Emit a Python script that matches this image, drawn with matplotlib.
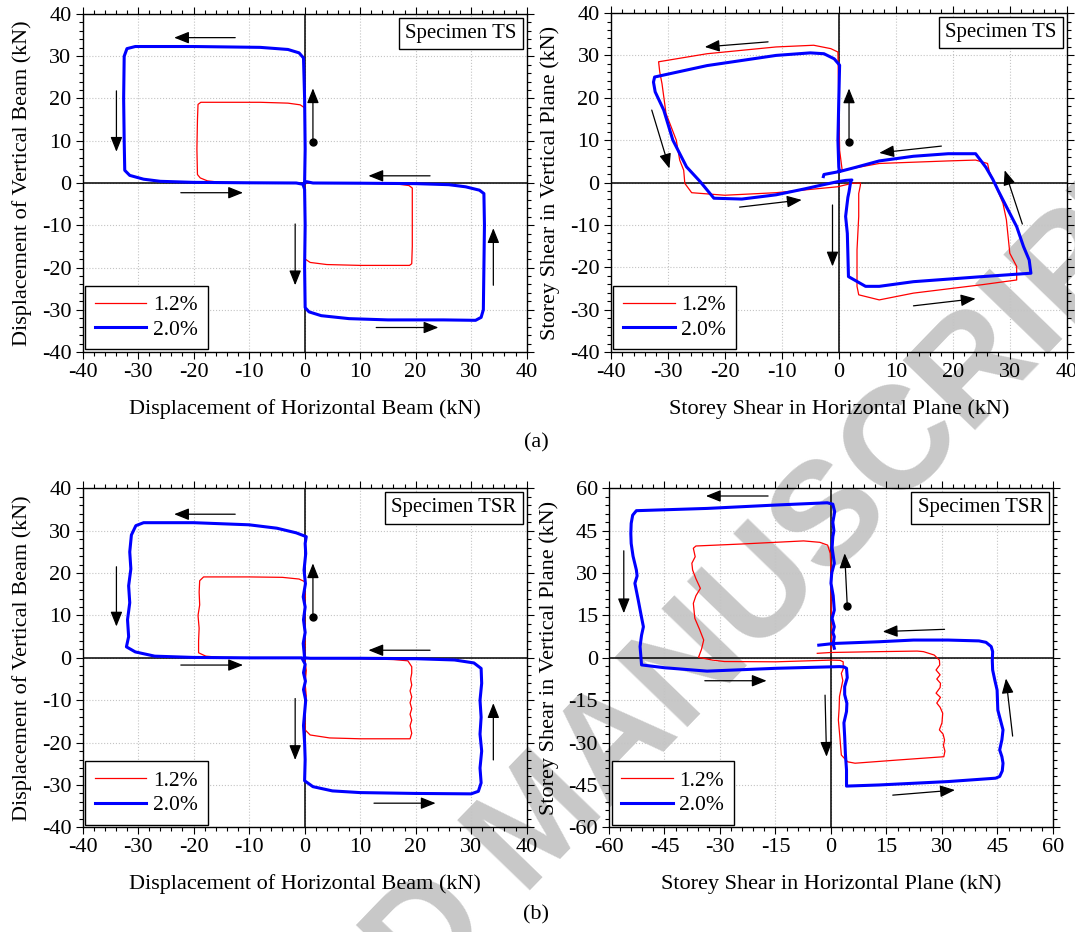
import numpy as np
import matplotlib
matplotlib.use('Agg')
import matplotlib.pyplot as plt
import matplotlib.ticker as mticker
from matplotlib.offsetbox import AnchoredText

plt.rcParams['font.family'] = ['Liberation Serif', 'DejaVu Serif']
plt.rcParams['axes.unicode_minus'] = False

# ---- Specimen TS, beam displacements (kN) ----
ts_beam_12 = [(0, 0), (0.1, 5), (0, 15), (0, 17.8), (-0.8, 18.5), (-3, 18.9), (-8, 19.1), (-15, 19.1),
              (-18.7, 19.1), (-19.2, 18.6), (-19.3, 15), (-19.4, 8), (-19.3, 2), (-18.8, 1.2), (-17.5, 0.5),
              (-15, 0.15), (-8, 0.05), (-1, 0), (0, -0.5), (0.1, -8), (0, -15), (0.1, -18), (1, -18.8),
              (4, -19.3), (10, -19.5), (17, -19.5), (18.9, -19.5), (19.3, -19.1), (19.4, -15), (19.4, -8),
              (19.4, -1.2), (18.8, -0.6), (17, -0.3), (12, -0.1), (5, -0.05), (0, 0)]
ts_beam_20 = [(0, 0), (0.1, 8), (0, 20), (-0.2, 29.6), (-1, 30.8), (-3, 31.6), (-8, 32.1), (-20, 32.3),
              (-30.5, 32.3), (-32, 31.8), (-32.5, 30), (-32.6, 20), (-32.5, 10), (-32.4, 3), (-31.5, 1.8),
              (-29, 0.9), (-26, 0.4), (-20, 0.15), (-10, 0.05), (-1.5, 0), (-0.3, -0.3), (0, -1.5),
              (0.1, -10), (0, -20), (0.1, -29.5), (0.8, -30.5), (3, -31.4), (8, -32.1), (15, -32.4),
              (25, -32.4), (30.8, -32.5), (31.8, -31.8), (32.2, -30), (32.3, -20), (32.4, -10), (32.3, -2.5),
              (31.5, -1.7), (29, -0.9), (26, -0.4), (20, -0.15), (10, -0.05), (1.5, 0), (0.4, 0.3), (0, 0)]

# ---- Specimen TS, storey shear (kN) ----
ts_shear_12 = [(0.6, 2.9), (0.15, 7.6), (0, 19.4), (-0.15, 30.8), (-1.4, 31.6), (-4.4, 32.4), (-11, 32),
               (-23.1, 30.4), (-31.6, 28.5), (-31.4, 26.1), (-31, 23.3), (-30.3, 16.3), (-28.5, 10),
               (-27.9, 5.3), (-27.2, 2.9), (-27, -0.2), (-25.8, -2.4), (-20, -3), (-11, -2.4), (-0.2, -1),
               (2.3, -0.2), (3.8, -0.1), (3.8, -0.6), (3.5, -2.6), (3.5, -8), (3.2, -15.9), (3.2, -24.5),
               (3.5, -26.5), (7.1, -27.7), (13.1, -26.1), (25.2, -24.1), (31.2, -23), (31.2, -19.8),
               (30, -16.7), (29.4, -8.8), (28.8, -4.9), (27.6, -1), (26.4, 2.6), (26.1, 4.5), (24, 5.3),
               (19.2, 5.1), (7.1, 4.5), (0.6, 2.9)]
ts_shear_20 = [(0.1, 2.6), (0, 3.7), (-0.15, 10), (0, 19.4), (0.15, 27.7), (-0.8, 29.2), (-2.6, 30.4),
               (-5, 30.6), (-11, 30), (-23.1, 27.6), (-32.3, 24.9), (-32.5, 23.7), (-32.2, 21.4),
               (-30.7, 17.1), (-29.1, 10), (-26.7, 3.7), (-24.3, 0.2), (-21.9, -3.7), (-17, -3.9),
               (-11, -2.9), (-6, -1.5), (-3, -0.6), (-0.2, 0.2), (1.2, 0.5), (2.3, 0.6), (2.1, 0.3),
               (1.8, -2.2), (1.6, -3.5), (1.4, -5.7), (1.2, -8), (1.5, -12), (1.6, -17), (1.7, -22.2),
               (4.7, -24.5), (7.1, -24.5), (13.1, -23.4), (25.2, -22.2), (33.7, -21.4), (33.4, -18.3),
               (32.4, -15.1), (31.2, -10.4), (29.4, -5.7), (28, -2), (27, 0.8), (25.8, 3.6), (24, 6.8),
               (19.2, 6.8), (13.1, 6.2), (7.1, 5.1), (3, 3.6), (0.15, 2.6), (-2.6, 1.9), (-2.7, 1.4)]

# ---- Specimen TSR, beam displacements (kN) ----
tsr_beam_12 = [(0, 0), (0.1, 5), (0, 10), (0.1, 15), (0, 18), (-1, 18.6), (-4, 19), (-10, 19.1),
               (-18.2, 19.1), (-18.9, 18.2), (-19, 15.5), (-18.9, 12.5), (-19.2, 10), (-19, 7), (-19.1, 4),
               (-19.1, 1.2), (-17.8, 0.4), (-15, 0.1), (-8, 0), (0, 0), (0.3, -3), (0.1, -6), (0.3, -9),
               (0, -12), (0.1, -17), (1, -18.2), (4.5, -18.9), (10, -19.1), (19, -19.1), (19.3, -17.8),
               (19, -16), (19.3, -14.7), (19, -13.3), (19.3, -12), (19, -10.6), (19.3, -9.2), (19, -7.8),
               (19.3, -6.4), (19.1, -5), (19.3, -3.6), (19.3, -2.1), (18.6, -0.7), (16, -0.4), (10, -0.2),
               (0, 0)]
tsr_beam_20 = [(0, 0), (-0.25, 3.4), (0.1, 6), (-0.2, 9), (0.1, 12), (-0.25, 14.4), (0.15, 17.5),
               (-0.1, 20.7), (0.2, 24.6), (0.1, 27), (0.3, 28.6), (-1.5, 29.5), (-5, 30.6), (-10, 31.4),
               (-20, 31.9), (-29, 31.9), (-30.4, 31.2), (-31.2, 29), (-31.5, 25), (-31.3, 21), (-31.7, 17),
               (-31.5, 13), (-31.9, 9), (-31.7, 5), (-32.1, 2.6), (-30.5, 1.4), (-27, 0.4), (-20, 0.1),
               (-10, 0), (-0.5, 0), (0.1, -1.5), (-0.2, -3.5), (0.15, -5.5), (-0.2, -7.5), (0.2, -10),
               (0, -13), (-0.2, -16), (0, -20), (0.1, -24), (0, -29), (1.5, -30.4), (5, -31.4), (10, -31.8),
               (20, -32), (30, -32.1), (31.3, -31.5), (31.8, -29.5), (31.6, -26), (31.9, -22), (31.6, -18),
               (31.8, -14), (31.6, -10), (31.9, -6), (31.8, -2.5), (30.5, -1.2), (27, -0.5), (20, -0.2),
               (10, -0.1), (1, -0.1), (0, 0)]

# ---- Specimen TSR, storey shear (kN) ----
tsr_shear_12 = [(0, 2.8), (0.2, 8), (0.2, 13.4), (0, 20), (0, 31.1), (-0.2, 37), (-0.9, 39.9), (-3, 40.9),
                (-7.4, 41.4), (-24.2, 40.3), (-36.5, 39.6), (-37.2, 38.8), (-36.7, 35.8), (-37.6, 33.5),
                (-37.4, 31.1), (-36.5, 28), (-35.3, 24.6), (-36.5, 22), (-37.2, 19.3), (-36.8, 14),
                (-35.5, 10), (-34.4, 6.3), (-35, 3), (-35.8, 0.2), (-32, -0.8), (-28.8, -1.3), (-14.9, -1.4),
                (0, -0.8), (2.5, -0.9), (3.3, -1.4), (3.3, -4), (2.8, -5.5), (3.2, -8), (2.3, -13.7),
                (2.2, -18), (2, -22), (2.4, -28), (2.8, -34.4), (4.5, -36.8), (6.5, -37.3), (17.7, -36.2),
                (30.5, -35), (30.8, -33), (30.4, -31), (30.7, -29.1), (30.3, -27), (29.3, -25.5), (30, -23),
                (30.2, -19.6), (29.5, -17.5), (28.6, -16), (29.6, -14), (28.4, -12.5), (29.5, -10.5),
                (29.6, -9), (28.6, -7.5), (29.5, -6), (28.4, -4.3), (29.4, -2.5), (29.3, -0.8), (27.9, 1),
                (25, 2.2), (23.3, 2.4), (13, 2.2), (0, 1.9), (-3.7, 1.6)]
tsr_shear_20 = [(0.9, 3.4), (0.6, 5), (0.9, 7.5), (0.5, 9), (0.9, 11), (0.3, 14), (0.9, 16.9), (0.6, 22),
                (0, 26.4), (0.2, 30), (0.9, 33.5), (0.3, 39), (0.5, 42.9), (0.8, 45), (0.5, 48), (1, 51.7),
                (0.5, 54.4), (-1, 54.9), (-14.9, 54.1), (-33.5, 52.9), (-52.6, 52.1), (-53.6, 50.5),
                (-54, 47.6), (-54.1, 44), (-54, 40.5), (-53.5, 36), (-52.6, 31.1), (-52.4, 29), (-53, 26.4),
                (-52.1, 20.5), (-51.3, 15), (-50.7, 11), (-51.2, 8), (-51.6, 4), (-51.2, -2.5), (-45, -3.5),
                (-33.5, -4.7), (-14.9, -3.7), (2.3, -3.1), (3.5, -3.2), (4.2, -3.7), (4.4, -7), (3.7, -10.2),
                (3.7, -13), (4.3, -16.1), (4.2, -19), (3.5, -23), (3.7, -27.9), (3.9, -34), (4.2, -39.7),
                (4.2, -45.4), (13, -45), (31.6, -43.8), (44.5, -42.6), (45.6, -42), (46.3, -40),
                (46.5, -37.3), (46.2, -35), (45.6, -32.6), (46.2, -29), (46.5, -25.5), (45.8, -22),
                (45.1, -18.5), (45, -15), (44.9, -11.4), (44.3, -8), (43.7, -4.3), (43.6, -1), (43.7, 2.2),
                (43.3, 4), (41.9, 5.5), (40, 6), (31.6, 6.3), (22.3, 6.3), (13, 5.7), (0.9, 5.1), (-3.3, 4.5)]

# loading direction arrows (start, end) and the starting dot
ts_beam_arrows = [((-12.5, 34.4), (-23.5, 34.4)), ((-33.9, 21.8), (-33.9, 7.4)), ((1.5, 9.6), (1.5, 22.4)),
                  ((22.6, 1.7), (11.5, 1.7)), ((-22.3, -2.3), (-11.1, -2.3)), ((-1.7, -9.7), (-1.7, -24.2)),
                  ((34, -24.2), (34, -10.7)), ((12.9, -34.2), (24.1, -34.2))]
ts_shear_arrows = [((-12.4, 33.2), (-23.5, 32)), ((-32.8, 17.1), (-29.7, 3.3)), ((1.8, 9.5), (1.8, 22.2)),
                   ((18, 8.6), (7.1, 7)), ((-17.4, -5.8), (-6.5, -4.1)), ((-1.1, -5.3), (-1.1, -19.8)),
                   ((32.2, -9.8), (29.1, 2.9)), ((13.1, -29.1), (24, -27.4))]
tsr_beam_arrows = [((-12.5, 33.9), (-23.5, 33.9)), ((-33.9, 21.5), (-33.9, 7.4)), ((1.5, 9.7), (1.5, 22.3)),
                   ((22.6, 1.8), (11.5, 1.8)), ((-22.3, -1.7), (-11.1, -1.7)), ((-1.7, -9.6), (-1.7, -24.1)),
                   ((34, -24.1), (34, -10.7)), ((12.5, -34.3), (23.6, -34.3))]
tsr_shear_arrows = [((-17, 57.3), (-33.8, 57.3)), ((-56, 37.9), (-56, 15.8)), ((4.4, 18.5), (3.7, 37)),
                    ((30.7, 10.1), (14, 9.3)), ((-34.1, -8.1), (-17.4, -8.1)), ((-1.6, -13.2), (-1.2, -35)),
                    ((49.1, -27.7), (47.3, -7.3)), ((16.7, -48.6), (33.5, -46.8))]
ts_beam_dot = (1.5, 9.6)
ts_shear_dot = (1.8, 9.5)
tsr_beam_dot = (1.5, 9.7)
tsr_shear_dot = (4.4, 18.5)

labels = ['1.2%', '2.0%']
beam_xlabel = 'Displacement of Horizontal Beam (kN)'
beam_ylabel = 'Displacement of Vertical Beam (kN)'
shear_xlabel = 'Storey Shear in Horizontal Plane (kN)'
shear_ylabel = 'Storey Shear in Vertical Plane (kN)'

FS = 16


def setup(ax, lim, major, minor, xlabel, ylabel, name):
    ax.set_facecolor('none')
    ax.set_xlim(-lim, lim)
    ax.set_ylim(-lim, lim)
    ax.xaxis.set_major_locator(mticker.MultipleLocator(major))
    ax.yaxis.set_major_locator(mticker.MultipleLocator(major))
    ax.xaxis.set_minor_locator(mticker.MultipleLocator(minor))
    ax.yaxis.set_minor_locator(mticker.MultipleLocator(minor))
    ax.tick_params(which='both', direction='out', top=True, right=True, width=0.8,
                   labelsize=FS, pad=3)
    ax.tick_params(which='major', length=5)
    ax.tick_params(which='minor', length=2.8)
    ax.grid(True, which='major', color='#c4c4c4', linestyle=':', linewidth=0.8)
    for s in ax.spines.values():
        s.set_linewidth(1.0)
    ax.axhline(0, color='k', lw=1.1, zorder=2.5)
    ax.axvline(0, color='k', lw=1.1, zorder=2.5)
    ax.set_xlabel(xlabel, fontsize=FS, labelpad=12)
    ax.set_ylabel(ylabel, fontsize=FS, labelpad=7)
    at = AnchoredText(name, loc='upper right', prop=dict(size=15), pad=0.3, borderpad=0.18)
    at.patch.set_boxstyle('square,pad=0')
    at.patch.set_edgecolor('k')
    at.patch.set_linewidth(1.0)
    at.zorder = 6
    ax.add_artist(at)


def draw(ax, red, blue, arrows, dot):
    r = np.array(red)
    b = np.array(blue)
    ax.plot(r[:, 0], r[:, 1], color='#ff0000', lw=0.9, label=labels[0], zorder=3)
    ax.plot(b[:, 0], b[:, 1], color='#0000ff', lw=2.2, label=labels[1], zorder=4)
    for start, end in arrows:
        ax.annotate('', xy=end, xytext=start,
                    arrowprops=dict(arrowstyle='-|>,head_length=0.45,head_width=0.18', color='k',
                                    lw=0.9, mutation_scale=20, shrinkA=0, shrinkB=0), zorder=5)
    ax.plot([dot[0]], [dot[1]], 'o', color='k', ms=5, zorder=5)
    leg = ax.legend(loc='lower left', fontsize=15.5, frameon=True, fancybox=False, framealpha=1,
                    edgecolor='k', handlelength=2.4, handletextpad=0.3, labelspacing=0.2,
                    borderpad=0.45, borderaxespad=0.12)
    leg.get_frame().set_linewidth(1.0)
    leg.set_zorder(6)


fig = plt.figure(figsize=(10.75, 9.32), dpi=100)

# watermark behind the panels
fig.text(0.504, 0.116, 'ACCEPTED MANUSCRIPT', fontsize=105, family='Liberation Sans', weight='bold',
         color='#c8c8c8', rotation=46, rotation_mode='anchor', ha='center', va='center', zorder=-1)

ax1 = fig.add_axes([0.0768, 0.6223, 0.4131, 0.3627])
ax2 = fig.add_axes([0.5681, 0.6223, 0.4243, 0.3637])
ax3 = fig.add_axes([0.0768, 0.1123, 0.4131, 0.3637])
ax4 = fig.add_axes([0.5665, 0.1123, 0.4130, 0.3637])

setup(ax1, 40, 10, 2, beam_xlabel, beam_ylabel, 'Specimen TS')
draw(ax1, ts_beam_12, ts_beam_20, ts_beam_arrows, ts_beam_dot)
setup(ax2, 40, 10, 2, shear_xlabel, shear_ylabel, 'Specimen TS')
draw(ax2, ts_shear_12, ts_shear_20, ts_shear_arrows, ts_shear_dot)
setup(ax3, 40, 10, 2, beam_xlabel, beam_ylabel, 'Specimen TSR')
draw(ax3, tsr_beam_12, tsr_beam_20, tsr_beam_arrows, tsr_beam_dot)
setup(ax4, 60, 15, 3, shear_xlabel, shear_ylabel, 'Specimen TSR')
draw(ax4, tsr_shear_12, tsr_shear_20, tsr_shear_arrows, tsr_shear_dot)

fig.text(0.499, 1 - 443 / 932, '(a)', fontsize=16, ha='center', va='center')
fig.text(0.499, 1 - 915 / 932, '(b)', fontsize=16, ha='center', va='center')

fig.savefig('out.png', dpi=100)
